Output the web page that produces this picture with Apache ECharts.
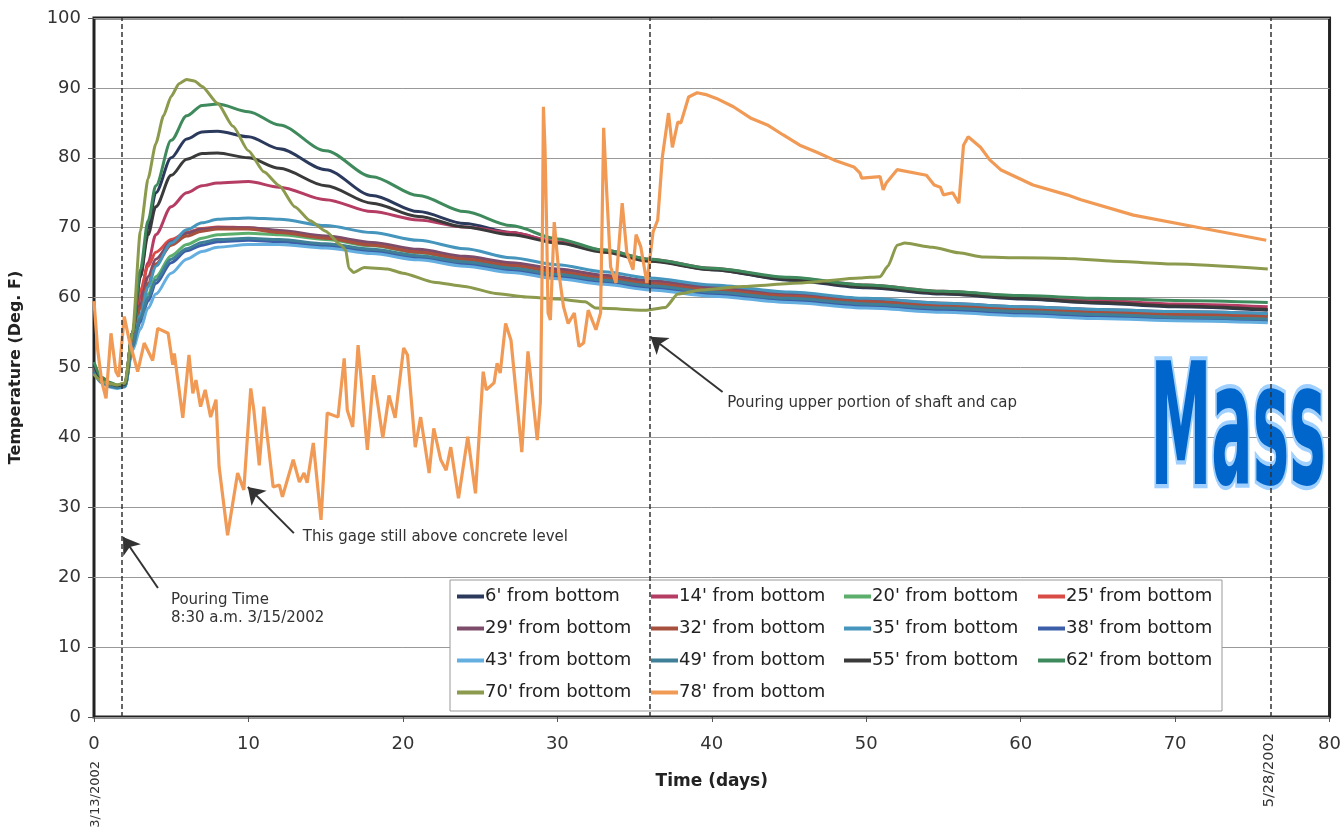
<!DOCTYPE html>
<html>
<head>
<meta charset="utf-8">
<title>Mass concrete temperature</title>
<script src="https://cdn.jsdelivr.net/npm/echarts@6/dist/echarts.min.js"></script>
<style>
  html, body { margin: 0; padding: 0; background: #fff; }
  #chart { width: 1344px; height: 832px; }
</style>
</head>
<body>
<div id="chart"></div>
<script>
// days since 3/13/2002, shared by the embedded gauges
const days = [0, 0.5, 1, 1.5, 2, 2.5, 3, 3.5, 4, 5, 6, 7, 8, 10, 12, 15, 18, 21, 24, 27, 30, 33, 36, 40, 45, 50, 55, 60, 65, 70, 76];

// temperature (deg F) per gauge
const g6  = [50.5, 48.5, 47.8, 47.4, 47.6, 55, 63, 70, 75, 80, 82.7, 83.7, 83.8, 83, 81.3, 78.3, 74.6, 72.3, 70.6, 69.3, 67.9, 66.6, 65.3, 64, 62.5, 61.4, 60.5, 59.8, 59.2, 58.7, 58.2];
const g14 = [50, 48.3, 47.6, 47.3, 47.5, 54, 60, 65, 69, 73, 75, 76, 76.4, 76.6, 75.8, 74, 72.3, 71.1, 70.1, 69.3, 68, 66.8, 65.5, 64.2, 62.8, 61.8, 60.9, 60.2, 59.6, 59.1, 58.7];
const g20 = [49.5, 48, 47.5, 47.2, 47.4, 53, 57, 60.5, 63, 66, 67.6, 68.5, 69, 69.2, 69, 68.3, 67.4, 66.4, 65.4, 64.5, 63.6, 62.7, 61.9, 61, 60.1, 59.3, 58.7, 58.2, 57.8, 57.5, 57.2];
const g25 = [50, 48.2, 47.6, 47.3, 47.5, 55, 61, 64.5, 66.5, 68.3, 69.3, 69.9, 70.1, 70, 69.5, 68.6, 67.7, 66.7, 65.7, 64.8, 63.9, 63, 62.2, 61.3, 60.4, 59.6, 59, 58.5, 58.1, 57.8, 57.5];
const g29 = [49.8, 48.1, 47.5, 47.3, 47.5, 54, 59, 63, 65.5, 68, 69.2, 69.8, 70, 70, 69.6, 68.8, 67.9, 66.9, 65.9, 65, 64.1, 63.2, 62.4, 61.5, 60.6, 59.8, 59.2, 58.7, 58.3, 58, 57.7];
const g32 = [49.6, 48, 47.4, 47.2, 47.4, 54, 58.5, 62, 64.8, 67.5, 68.8, 69.5, 69.8, 69.8, 69.3, 68.5, 67.5, 66.5, 65.5, 64.6, 63.7, 62.8, 62, 61.1, 60.2, 59.4, 58.8, 58.3, 57.9, 57.6, 57.3];
const g35 = [50.2, 48.3, 47.6, 47.4, 47.6, 53, 57.5, 61.5, 64.5, 67.8, 69.7, 70.7, 71.2, 71.4, 71.2, 70.3, 69.3, 68.2, 67, 65.7, 64.7, 63.7, 62.8, 61.8, 60.8, 59.9, 59.2, 58.7, 58.3, 58, 57.7];
const g38 = [49.4, 47.9, 47.3, 47.1, 47.3, 53, 56.5, 59.5, 62, 65, 66.7, 67.5, 68, 68.2, 68, 67.4, 66.6, 65.7, 64.8, 63.9, 63, 62.2, 61.4, 60.5, 59.6, 58.8, 58.2, 57.7, 57.3, 57, 56.7];
const g43 = [49.2, 47.8, 47.2, 47, 47.2, 52.5, 55.5, 58.5, 60.5, 63.5, 65.5, 66.6, 67.2, 67.6, 67.6, 67.1, 66.3, 65.4, 64.5, 63.6, 62.7, 61.9, 61.1, 60.2, 59.3, 58.5, 57.9, 57.4, 57, 56.7, 56.4];
const g49 = [49.3, 47.9, 47.3, 47.1, 47.3, 53, 57, 60, 62.5, 65.5, 67, 67.9, 68.3, 68.5, 68.3, 67.7, 66.9, 66, 65.1, 64.2, 63.3, 62.5, 61.7, 60.8, 59.9, 59.1, 58.5, 58, 57.6, 57.2, 56.9];
const g55 = [50.3, 48.4, 47.7, 47.4, 47.6, 55, 63, 69, 73, 77.5, 79.8, 80.6, 80.7, 80, 78.5, 76, 73.5, 71.6, 70.1, 69, 67.8, 66.5, 65.2, 64, 62.6, 61.5, 60.6, 59.9, 59.3, 58.8, 58.3];
const g62 = [50.8, 48.6, 47.9, 47.5, 47.7, 55, 64, 71, 76, 82.5, 86, 87.5, 87.7, 86.6, 84.7, 81, 77.3, 74.6, 72.3, 70.3, 68.4, 66.8, 65.5, 64.2, 62.9, 61.8, 60.9, 60.3, 59.9, 59.6, 59.3];

// 70' gauge, [day, temp]
const g70 = [[0, 49], [0.5, 48], [1, 47.7], [1.5, 47.5], [2, 47.8], [2.5, 55], [3, 69.5], [3.5, 77], [4, 82], [4.5, 86], [5, 88.8], [5.5, 90.6], [6, 91.2], [6.5, 91], [7, 90.2], [8, 87.8], [9, 84.5], [10, 81], [11, 78], [12, 76], [13, 73], [14, 71], [15, 69.5], [16, 67.5], [16.3, 66.8], [16.5, 64.2], [16.8, 63.6], [17.5, 64.3], [19, 64.1], [20, 63.5], [22, 62.2], [24, 61.6], [26, 60.6], [28, 60.1], [30, 59.8], [31.8, 59.4], [32.5, 58.5], [35.8, 58.2], [37, 58.6], [37.8, 60.5], [39.3, 61.1], [42, 61.6], [45.7, 62.1], [49.6, 62.8], [50.9, 63], [51.4, 64.5], [52, 67.5], [52.5, 67.8], [54.3, 67.2], [56, 66.4], [57.6, 65.8], [60, 65.7], [63, 65.6], [66, 65.2], [70, 64.8], [76, 64.1]];

// 78' gauge (still in air until day 36), [day, temp]
const g78 = [[0, 59.5], [0.24, 52.5], [0.5, 48], [0.78, 45.6], [1.1, 54.9], [1.42, 49.4], [1.6, 48.7], [1.96, 57.3], [2.28, 53.9], [2.83, 49.4], [3.25, 53.5], [3.8, 51], [4.13, 55.6], [4.8, 54.9], [5.1, 50.4], [5.2, 52], [5.75, 42.8], [6.15, 51.8], [6.4, 46.3], [6.6, 48.2], [6.9, 44.4], [7.2, 46.8], [7.55, 42.9], [7.9, 45.4], [8.1, 35.8], [8.65, 26], [9.3, 34.9], [9.7, 32.5], [10.15, 47], [10.35, 43.9], [10.7, 36], [11, 44.4], [11.6, 32.9], [12, 33.2], [12.2, 31.5], [12.9, 36.8], [13.3, 33.6], [13.6, 34.9], [13.8, 33.5], [14.2, 39.2], [14.7, 28.2], [15.1, 43.5], [15.8, 42.9], [16.2, 51.3], [16.4, 43.9], [16.75, 41.5], [17.1, 53.2], [17.7, 38.2], [18.1, 48.9], [18.7, 39.9], [19.1, 46], [19.5, 42.8], [20.05, 52.8], [20.3, 51.8], [20.8, 38.6], [21.15, 42.9], [21.7, 34.9], [22, 41.3], [22.45, 36.8], [22.8, 35.3], [23.1, 38.6], [23.6, 31.3], [24.2, 40.1], [24.7, 32], [25.2, 49.4], [25.4, 46.8], [25.9, 47.8], [26.1, 50.6], [26.3, 49.2], [26.65, 56.3], [27, 53.9], [27.7, 37.9], [28.1, 52.3], [28.7, 39.6], [28.9, 45], [29, 60.6], [29.1, 87.3], [29.2, 81.5], [29.3, 71], [29.4, 57.8], [29.55, 56.8], [29.8, 70.8], [30.1, 63.5], [30.4, 58.7], [30.7, 56.3], [31.1, 57.8], [31.4, 53], [31.7, 53.5], [32, 58.2], [32.5, 55.4], [32.8, 57.8], [33, 84.3], [33.2, 75], [33.45, 64.4], [33.8, 62.1], [34.2, 73.5], [34.5, 66.4], [34.9, 64], [35.1, 69], [35.4, 67.3], [35.8, 62.1], [36.2, 69.4], [36.5, 71.1], [36.8, 80.1], [37.2, 86.4], [37.45, 81.5], [37.8, 85.1], [38, 85], [38.5, 88.7], [39.05, 89.3], [39.7, 89], [40.3, 88.5], [41.4, 87.3], [42.5, 85.7], [43.6, 84.7], [44.6, 83.3], [45.7, 81.8], [46.8, 80.8], [47.9, 79.7], [49.2, 78.7], [49.6, 77.8], [49.7, 77.1], [50.9, 77.3], [51.1, 75.4], [51.3, 76.4], [52, 78.3], [53.9, 77.5], [54.4, 76.1], [54.8, 75.8], [55, 74.7], [55.6, 75], [56, 73.5], [56.3, 81.8], [56.6, 83], [57.4, 81.5], [58, 79.7], [58.7, 78.3], [60.8, 76.1], [63, 74.7], [63.9, 74], [67.3, 71.8], [71.6, 70], [75.9, 68.2]];

// event lines (days)
const events = [1.8, 36, 76.2];

const font = '"DejaVu Sans", "Liberation Sans", Arial, sans-serif';

const gauges = [
  { name: "6' from bottom",  color: '#2b3a5c', vals: g6 },
  { name: "14' from bottom", color: '#b53d64', vals: g14 },
  { name: "20' from bottom", color: '#5cae6c', vals: g20 },
  { name: "25' from bottom", color: '#d94b45', vals: g25 },
  { name: "29' from bottom", color: '#7d4c6b', vals: g29 },
  { name: "32' from bottom", color: '#a8503e', vals: g32 },
  { name: "35' from bottom", color: '#4595bd', vals: g35 },
  { name: "38' from bottom", color: '#3c5ea8', vals: g38 },
  { name: "43' from bottom", color: '#64aee0', vals: g43 },
  { name: "49' from bottom", color: '#3f7f97', vals: g49 },
  { name: "55' from bottom", color: '#3a3a3a', vals: g55 },
  { name: "62' from bottom", color: '#3f8a5c', vals: g62 }
];

const series = gauges.map(g => ({
  name: g.name,
  type: 'line',
  data: days.map((d, i) => [d, g.vals[i]]),
  color: g.color,
  showSymbol: false,
  smooth: 0.3,
  smoothMonotone: 'x',
  lineStyle: { width: 3 }
}));

series.push({
  name: "70' from bottom", type: 'line', data: g70, color: '#8b9a4c',
  showSymbol: false, smooth: 0.2, smoothMonotone: 'x', lineStyle: { width: 3 }
});
series.push({
  name: "78' from bottom", type: 'line', data: g78, color: '#f09a55',
  showSymbol: false, lineStyle: { width: 3.2 }
});

// guide lines and arrows
series.push({
  name: 'guides', type: 'line', data: [],
  markLine: {
    silent: true,
    symbol: 'none',
    label: { show: false },
    lineStyle: { color: '#333', width: 1.5, type: [5, 3] },
    data: events.map(e => ({ xAxis: e }))
  }
});
series.push({
  name: 'arrows', type: 'line', data: [],
  markLine: {
    silent: true,
    symbol: ['none', 'arrow'],
    symbolSize: 16,
    label: { show: false },
    lineStyle: { color: '#333', width: 2, type: 'solid' },
    data: [
      [{ coord: [12.94, 26.3] }, { coord: [9.96, 32.9] }],
      [{ coord: [4.14, 18.45] }, { coord: [1.88, 25.75] }],
      [{ coord: [40.7, 46.5] }, { coord: [36.03, 54.4] }]
    ]
  }
});

const legendCols = [
  ["6' from bottom", "29' from bottom", "43' from bottom", "70' from bottom"],
  ["14' from bottom", "32' from bottom", "49' from bottom", "78' from bottom"],
  ["20' from bottom", "35' from bottom", "55' from bottom"],
  ["25' from bottom", "38' from bottom", "62' from bottom"]
];
const legendLeft = [457, 651, 844, 1038];

const chart = echarts.init(document.getElementById('chart'));
chart.setOption({
  animation: false,
  backgroundColor: '#fff',
  textStyle: { fontFamily: font },
  grid: {
    left: 93, right: 14, top: 18, bottom: 115,
    show: true, borderColor: '#222', borderWidth: 3, backgroundColor: 'transparent'
  },
  legend: legendCols.map((col, i) => ({
    data: col,
    orient: 'vertical',
    left: legendLeft[i],
    top: 586,
    icon: 'rect',
    itemWidth: 27,
    itemHeight: 4,
    itemGap: 11,
    selectedMode: false,
    padding: 0,
    z: 4,
    textStyle: { fontSize: 18, color: '#222', fontFamily: font, lineHeight: 21, padding: [0, 0, 0, -4] }
  })),
  xAxis: {
    type: 'value', min: 0, max: 80, interval: 10,
    name: 'Time (days)', nameLocation: 'middle', nameGap: 56,
    nameTextStyle: { fontSize: 17, fontWeight: 'bold', color: '#222' },
    axisLine: { show: false },
    axisTick: { show: true, length: 5, lineStyle: { color: '#555' } },
    axisLabel: { fontSize: 18, color: '#333', margin: 18 },
    splitLine: { show: false }
  },
  yAxis: {
    type: 'value', min: 0, max: 100, interval: 10,
    name: 'Temperature (Deg. F)', nameLocation: 'middle', nameGap: 70,
    nameTextStyle: { fontSize: 16, fontWeight: 'bold', color: '#222' },
    axisLine: { show: false },
    axisTick: { show: true, length: 6, lineStyle: { color: '#555' } },
    axisLabel: { fontSize: 18, color: '#333', margin: 13 },
    splitLine: { show: true, lineStyle: { color: '#999', width: 1 } }
  },
  series: series
});

// annotations placed in data space
const px = p => chart.convertToPixel({ gridIndex: 0 }, p);
const gagePt = px([13.52, 25.75]);
const pourPt = px([4.98, 15.45]);
const upperPt = px([41.0, 44.9]);
const startPt = px([0, 0]);
const endPt = px([76.2, 0]);

const noteStyle = { fill: '#333', font: '15px ' + font, verticalAlign: 'middle' };

chart.setOption({
  graphic: [
    {
      type: 'rect', z: 1, silent: true,
      shape: { x: 450, y: 580, width: 772, height: 131 },
      style: { fill: '#fff', stroke: '#999', lineWidth: 1 }
    },
    { type: 'text', x: gagePt[0], y: gagePt[1], z: 5, style: Object.assign({ text: 'This gage still above concrete level' }, noteStyle) },
    { type: 'text', x: pourPt[0], y: pourPt[1], z: 5, style: Object.assign({ text: 'Pouring Time\n8:30 a.m. 3/15/2002', lineHeight: 18 }, noteStyle) },
    { type: 'text', x: upperPt[0], y: upperPt[1], z: 5, style: Object.assign({ text: 'Pouring upper portion of shaft and cap' }, noteStyle) },
    {
      type: 'text', x: startPt[0] + 2, y: startPt[1] + 44, rotation: Math.PI / 2, z: 5,
      style: { text: '3/13/2002', fill: '#333', font: '13px ' + font, align: 'right', verticalAlign: 'middle' }
    },
    {
      type: 'text', x: endPt[0] - 2, y: endPt[1] + 16, rotation: Math.PI / 2, z: 5,
      style: { text: '5/28/2002', fill: '#333', font: '14.5px ' + font, align: 'right', verticalAlign: 'middle' }
    },
    {
      type: 'text', x: 1238, y: 440, z: 1, scaleX: 0.37, scaleY: 0.925, silent: true,
      style: {
        text: 'Mass', align: 'center', verticalAlign: 'middle',
        font: 'bold 184px "Liberation Sans Narrow", "DejaVu Sans Condensed", "Liberation Sans", sans-serif',
        fill: '#0066cc', stroke: '#9fd0ff', lineWidth: 9, strokeFirst: true
      }
    }
  ]
});
</script>
</body>
</html>
